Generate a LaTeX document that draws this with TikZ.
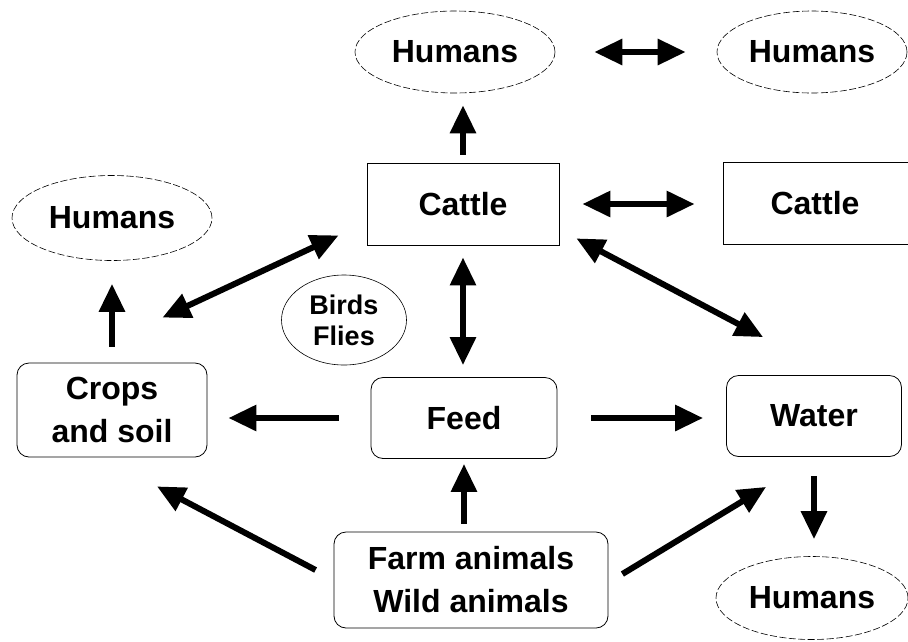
\documentclass[tikz,border=0pt]{standalone}
\usepackage{fontspec}
\setmainfont{Liberation Sans}
\usetikzlibrary{shapes.geometric,arrows.meta}

\tikzset{
	hum/.style={ellipse, draw, dashed, dash pattern=on 7pt off 2.5pt, line width=0.6pt, minimum width=200pt, minimum height=82pt, inner sep=0pt},
	sqbox/.style={rectangle, draw, line width=0.8pt, minimum width=192pt, minimum height=82pt},
	rbox/.style={rectangle, draw, rounded corners=12pt, line width=0.8pt, align=center},
	arr/.style={line width=6pt, -{Triangle[length=28pt,width=25pt]}},
	darr/.style={line width=6pt, {Triangle[length=28pt,width=25pt]}-{Triangle[length=28pt,width=25pt]}}
}

\begin{document}
\begin{tikzpicture}[x=1pt, y=-1pt, font=\fontsize{32}{43}\selectfont\bfseries]
	\useasboundingbox (0,0) rectangle (908,641);
	% ellipses
	\node[hum] (hTop) at (455, 52) {Humans};
	\node[hum, minimum width=190pt] (hRight) at (812, 52) {Humans};
	\node[hum, minimum height=85pt] (hLeft) at (112, 218) {Humans};
	\node[hum, minimum width=192pt, minimum height=83pt] (hBottom) at (812, 598) {Humans};
	\node[ellipse, draw, line width=0.6pt, minimum width=125pt, minimum height=90pt, inner sep=0pt, align=center,
		font=\fontsize{27}{31}\selectfont\bfseries] (birds) at (344, 320) {Birds\\Flies};
	% boxes
	\node[sqbox] (cattle) at (463, 204) {Cattle};
	\node[sqbox, minimum width=200pt] (cattleR) at (823, 203) {\hspace*{-16pt}Cattle};
	\node[rbox, minimum width=190pt, minimum height=94pt] (crops) at (112, 410) {Crops\\and soil};
	\node[rbox, minimum width=186pt, minimum height=81pt] (feed) at (464, 418) {Feed};
	\node[rbox, minimum width=175pt, minimum height=81pt] (water) at (814, 416) {Water};
	\node[rbox, minimum width=274pt, minimum height=96pt] (farm) at (471, 580) {Farm animals\\Wild animals};
	% arrows
	\draw[darr, shorten <=39pt, shorten >=31pt] (hTop.east) -- (hRight.west);
	\draw[arr, shorten <=8pt, shorten >=12pt] (cattle.north) -- (cattle.north |- hTop.south);
	\draw[darr, shorten <=23pt, shorten >=28pt] (cattle.east) -- (cattle.east -| cattleR.west);
	\draw[arr, shorten <=16pt, shorten >=23pt] (crops.north) -- (hLeft.south);
	\draw[darr] ([xshift=-45pt,yshift=45pt]crops.north east) -- ([xshift=-28pt,yshift=10pt]cattle.south west);
	\draw[darr, shorten <=12pt, shorten >=12pt] (cattle.south) -- (cattle.south |- feed.north);
	\draw[darr] ([xshift=17pt,yshift=7pt]cattle.south east) -- ([xshift=37pt,yshift=38pt]water.north west);
	\draw[arr, shorten <=32pt, shorten >=21pt] (feed.west) -- (feed.west -| crops.east);
	\draw[arr, shorten <=34pt, shorten >=23pt] (feed.east) -- (feed.east -| water.west);
	\draw[arr, shorten <=8pt, shorten >=5pt] (feed.south |- farm.north) -- (feed.south);
	\draw[arr] ([xshift=-18pt,yshift=10pt]farm.west) -- ([xshift=45pt,yshift=-29pt]crops.south);
	\draw[arr] ([xshift=14pt,yshift=6pt]farm.east) -- ([xshift=40pt,yshift=-30pt]water.south west);
	\draw[arr, shorten <=19pt, shorten >=17pt] (water.south) -- (water.south |- hBottom.north);
\end{tikzpicture}
\end{document}
